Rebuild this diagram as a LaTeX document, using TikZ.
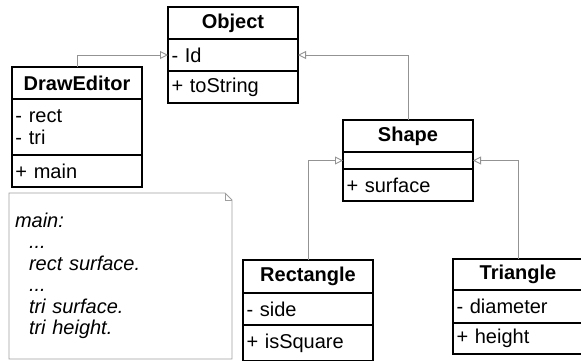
\documentclass[tikz,border=0pt]{standalone}
\usepackage{fontspec}
\setmainfont{Liberation Sans}
\usetikzlibrary{arrows.meta, positioning}

\begin{document}
\begin{tikzpicture}[x=1pt, y=-1pt,
		every node/.style={draw=black, line width=1.1pt, minimum width=130pt, inner sep=0pt, outer sep=0pt, font=\fontsize{20}{22.5}\selectfont},
		head/.style={minimum height=32pt, font=\fontsize{20}{22.5}\selectfont\bfseries},
		part/.style={minimum height=32pt, text width=123pt, align=left},
		notebox/.style={draw=none, minimum width=223pt, minimum height=166pt, text width=211pt, align=left, font=\fontsize{20}{21.5}\selectfont\itshape},
		inherit/.style={draw=gray!85, line width=0.9pt, -{Triangle[open, length=8pt, width=8pt]}}]
\useasboundingbox (0,0) rectangle (581,360);

\node[head, anchor=north west] (obj) at (168,7) {Object};
\node[part, below=0pt of obj] (objattr) {- Id};
\node[part, below=0pt of objattr] (objops) {+ toString};

\node[head, anchor=north west] (editor) at (12,67) {DrawEditor};
\node[part, minimum height=56pt, below=0pt of editor] (editorattr) {- rect\\- tri};
\node[part, below=0pt of editorattr] (editorops) {+ main};

\node[head, anchor=north west] (shape) at (343,120) {Shape};
\node[part, minimum height=17pt, below=0pt of shape] (shapeattr) {};
\node[part, below=0pt of shapeattr] (shapeops) {+ surface};

\node[head, minimum height=33pt, anchor=north west] (rect) at (243,260) {Rectangle};
\node[part, below=0pt of rect] (rectattr) {- side};
\node[part, minimum height=36pt, below=0pt of rectattr] (rectops) {+ isSquare};

\node[head, minimum height=31pt, anchor=north west] (tri) at (453,259) {Triangle};
\node[part, minimum height=33pt, below=0pt of tri] (triattr) {- diameter};
\node[part, minimum height=31pt, below=0pt of triattr] (triops) {+ height};

% comment note
\node[notebox, anchor=north west] (note) at (9,193) {main:\\
	\hspace*{14pt}...\\
	\hspace*{14pt}rect surface.\\
	\hspace*{14pt}...\\
	\hspace*{14pt}tri surface.\\
	\hspace*{14pt}tri height.};
\draw[gray!75, line width=0.9pt] (note.south west) -- (note.north west) -- ([xshift=-7pt]note.north east)
	-- ([yshift=-7pt]note.north east) -- (note.south east) -- cycle;
\draw[gray!75, line width=0.9pt] ([xshift=-7pt]note.north east) -- ([xshift=-7pt, yshift=-7pt]note.north east)
	-- ([yshift=-7pt]note.north east);

% generalisations
\draw[inherit] (editor.north) |- (objattr.west);
\draw[inherit] (shape.north) |- (objattr.east);
\draw[inherit] (rect.north) |- (shapeattr.west);
\draw[inherit] (tri.north) |- (shapeattr.east);
\end{tikzpicture}
\end{document}
